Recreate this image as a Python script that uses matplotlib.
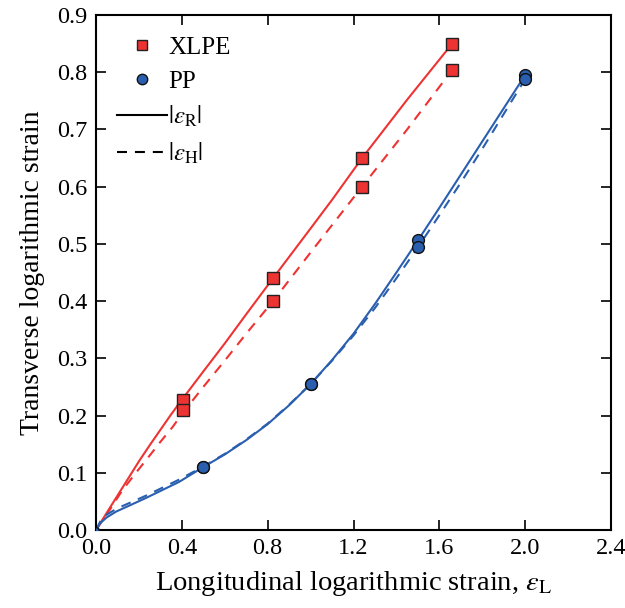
import matplotlib
matplotlib.use("Agg")
import matplotlib.pyplot as plt
from matplotlib.lines import Line2D
import matplotlib.ticker as mticker

plt.rcParams['font.family'] = ['Liberation Serif', 'DejaVu Serif']
plt.rcParams['mathtext.fontset'] = 'stix'

# Data points
xlpe_x = [0.405, 0.825, 1.24, 1.66]
xlpe_R = [0.228, 0.44, 0.65, 0.85]
xlpe_H = [0.21, 0.40, 0.60, 0.804]

pp_x = [0.5, 1.0, 1.5, 2.0]
pp_R = [0.11, 0.255, 0.506, 0.795]
pp_H = [0.11, 0.255, 0.494, 0.788]

# Curves
xlpe_cR_x = [0.0, 0.05, 0.1, 0.15, 0.2, 0.25, 0.3, 0.35, 0.405, 0.5, 0.6, 0.7, 0.825,
             1.0, 1.1, 1.24, 1.45, 1.66]
xlpe_cR_y = [0.0, 0.03, 0.06, 0.09, 0.12, 0.148, 0.175, 0.202, 0.23, 0.277, 0.326, 0.377, 0.44,
             0.527, 0.577, 0.65, 0.752, 0.85]
xlpe_cH_x = [0.0, 0.06, 0.124, 0.186, 0.25, 0.3, 0.357, 0.405, 0.5, 0.6, 0.7, 0.825,
             1.0, 1.24, 1.45, 1.66]
xlpe_cH_y = [0.0, 0.033, 0.07, 0.1, 0.13, 0.154, 0.18, 0.205, 0.25, 0.296, 0.343, 0.40,
             0.485, 0.60, 0.70, 0.804]

pp_cR_x = [0.0, 0.02, 0.05, 0.093, 0.233, 0.387, 0.5, 0.6, 0.7, 0.8, 0.9, 1.0,
           1.1, 1.2, 1.3, 1.4, 1.5, 1.6, 1.7, 1.8, 1.9, 2.0]
pp_cR_y = [0.0, 0.012, 0.022, 0.032, 0.056, 0.084, 0.11, 0.132, 0.157, 0.185, 0.218, 0.255,
           0.297, 0.343, 0.395, 0.45, 0.506, 0.563, 0.621, 0.679, 0.737, 0.795]
pp_cH_x = [0.0, 0.02, 0.05, 0.1, 0.233, 0.387, 0.5, 0.6, 0.7, 0.8, 0.9, 1.0,
           1.1, 1.2, 1.3, 1.4, 1.5, 1.6, 1.7, 1.8, 1.9, 2.0]
pp_cH_y = [0.0, 0.015, 0.027, 0.038, 0.06, 0.088, 0.111, 0.133, 0.158, 0.186, 0.219, 0.255,
           0.296, 0.34, 0.388, 0.44, 0.494, 0.55, 0.607, 0.666, 0.727, 0.788]

red = '#EE3333'
blue = '#2A5FB0'
dash = (0, (4.8, 3.8))

fig = plt.figure(figsize=(6.25, 6.08), dpi=100)
ax = fig.add_axes([0.1536, 0.1283, 0.824, 0.847])

ax.plot(xlpe_cR_x, xlpe_cR_y, color=red, lw=1.5, ls='-')
ax.plot(xlpe_cH_x, xlpe_cH_y, color=red, lw=1.5, ls=dash)
ax.plot(pp_cR_x, pp_cR_y, color=blue, lw=1.5, ls='-')
ax.plot(pp_cH_x, pp_cH_y, color=blue, lw=1.5, ls=dash)

ax.plot(xlpe_x, xlpe_R, 's', color=red, mec='#222222', mew=1.0, ms=8, zorder=5)
ax.plot(xlpe_x, xlpe_H, 's', color=red, mec='#222222', mew=1.0, ms=8, zorder=5)
ax.plot(pp_x, pp_R, 'o', color=blue, mec='#111111', mew=1.0, ms=8.5, zorder=5)
ax.plot(pp_x, pp_H, 'o', color=blue, mec='#111111', mew=1.0, ms=8.5, zorder=5)
ax.plot([0.0], [0.0], 'o', color=blue, mec='#111111', mew=1.0, ms=4, zorder=5)

ax.set_xlim(0, 2.4)
ax.set_ylim(0, 0.9)
ax.set_xticks([0.0, 0.4, 0.8, 1.2, 1.6, 2.0, 2.4])
ax.set_yticks([0.0, 0.1, 0.2, 0.3, 0.4, 0.5, 0.6, 0.7, 0.8, 0.9])
ax.xaxis.set_major_formatter(mticker.FormatStrFormatter('%.1f'))
ax.yaxis.set_major_formatter(mticker.FormatStrFormatter('%.1f'))
ax.tick_params(direction='in', length=7, width=1.2, labelsize=17.5, top=True, right=True, pad=6)
for s in ax.spines.values():
    s.set_linewidth(1.5)

ax.set_xlabel(r'Longitudinal logarithmic strain, $\varepsilon_{\mathrm{L}}$', fontsize=20.5, labelpad=7)
ax.set_ylabel('Transverse logarithmic strain', fontsize=20, labelpad=9)

handles = [
    Line2D([], [], ls='none', marker='s', color=red, mec='#222222', mew=1.0, ms=7),
    Line2D([], [], ls='none', marker='o', color=blue, mec='#111111', mew=1.0, ms=7.5),
    Line2D([], [], ls='-', color='black', lw=1.5),
    Line2D([], [], ls=dash, color='black', lw=1.5),
]
labels = ['XLPE', 'PP', r'$|\varepsilon_{\mathrm{R}}|$', r'$|\varepsilon_{\mathrm{H}}|$']
ax.legend(handles, labels, loc='upper left', frameon=False, fontsize=18,
          handlelength=2.0, borderaxespad=0.5, labelspacing=0.45, handletextpad=0.05,
          borderpad=0.35)

fig.savefig('out.png', dpi=100)
